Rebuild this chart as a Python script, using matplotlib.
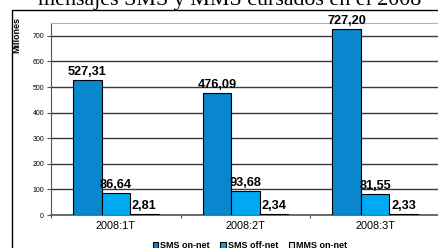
import matplotlib
matplotlib.use("Agg")
import matplotlib.pyplot as plt
from matplotlib.patches import Rectangle
import numpy as np

categories = ["2008:1T", "2008:2T", "2008:3T"]
sms_on_net = [527.31, 476.09, 727.20]
sms_off_net = [86.64, 93.68, 81.55]
mms_on_net = [2.81, 2.34, 2.33]
series_names = ["SMS on-net", "SMS off-net", "MMS on-net"]
series_colors = ["#0A86CE", "#00A9F2", "#CDEBFF"]
yticks = [0, 100, 200, 300, 400, 500, 600, 700]
title = "mensajes SMS y MMS cursados en el 2008"

W, H = 438, 248
fig = plt.figure(figsize=(W / 100, H / 100), dpi=100)
plt.rcParams['font.family'] = ['Liberation Sans', 'DejaVu Sans']

ax = fig.add_axes([51 / W, 1 - 215 / H, 389 / W, 192 / H])
ax.set_xlim(0, len(categories))
ax.set_ylim(0, 750)

centers = np.arange(len(categories)) + 0.5
width = 0.22
offsets = [-width, 0, width]
for vals, off, col, name in zip([sms_on_net, sms_off_net, mms_on_net], offsets, series_colors, series_names):
    bars = ax.bar(centers + off, vals, width=width, color=col, edgecolor="black",
                  linewidth=0.8, label=name, zorder=3)
    for b, v in zip(bars, vals):
        ax.annotate(f"{v:.2f}".replace(".", ","), (b.get_x() + b.get_width() / 2, v),
                    xytext=(0, 1.5), textcoords="offset points", ha="center", va="bottom",
                    fontsize=9.2, fontweight="bold", zorder=4)

ax.set_yticks(yticks)
ax.set_yticklabels([str(t) for t in yticks], fontsize=5)
ax.yaxis.grid(True, color="#3a3a3a", linewidth=1, zorder=0)
ax.tick_params(axis="y", direction="out", length=3, width=0.8, color="#555555", pad=2)

ax.set_xticks(np.arange(len(categories) + 1))
ax.set_xticklabels([])
ax.tick_params(axis="x", which="major", direction="out", length=2.5, width=0.8, color="#555555")
ax.set_xticks(centers, minor=True)
ax.set_xticklabels(categories, minor=True, fontsize=7.8)
ax.tick_params(axis="x", which="minor", length=0, pad=4)

ax.spines["top"].set_color("#b0b0b0")
ax.spines["left"].set_color("#555555")
ax.spines["bottom"].set_color("#555555")
ax.spines["bottom"].set_linewidth(1.2)
ax.spines["right"].set_visible(False)

fig.text(17 / W, 1 - 35 / H, "Millones", rotation=90, ha="center", va="center",
         fontsize=6.5, fontweight="bold")

# outer chart frame
fig.add_artist(Rectangle((12 / W, -0.2), 1.2, 1.2 - 10 / H, transform=fig.transFigure,
                         fill=False, edgecolor="black", linewidth=1.0))

fig.text(230 / W, 1 - 5 / H, title, ha="center", va="baseline",
         fontsize=15.8, family=["Liberation Serif", "DejaVu Serif"])

fig.legend(loc="center", bbox_to_anchor=(250 / W, 1 - 246 / H), ncol=3, frameon=False,
           prop={"weight": "bold", "size": 6.5}, handlelength=0.6, handleheight=0.6,
           handletextpad=0.2, columnspacing=1.2, borderpad=0)

fig.savefig("out.png", dpi=100)
